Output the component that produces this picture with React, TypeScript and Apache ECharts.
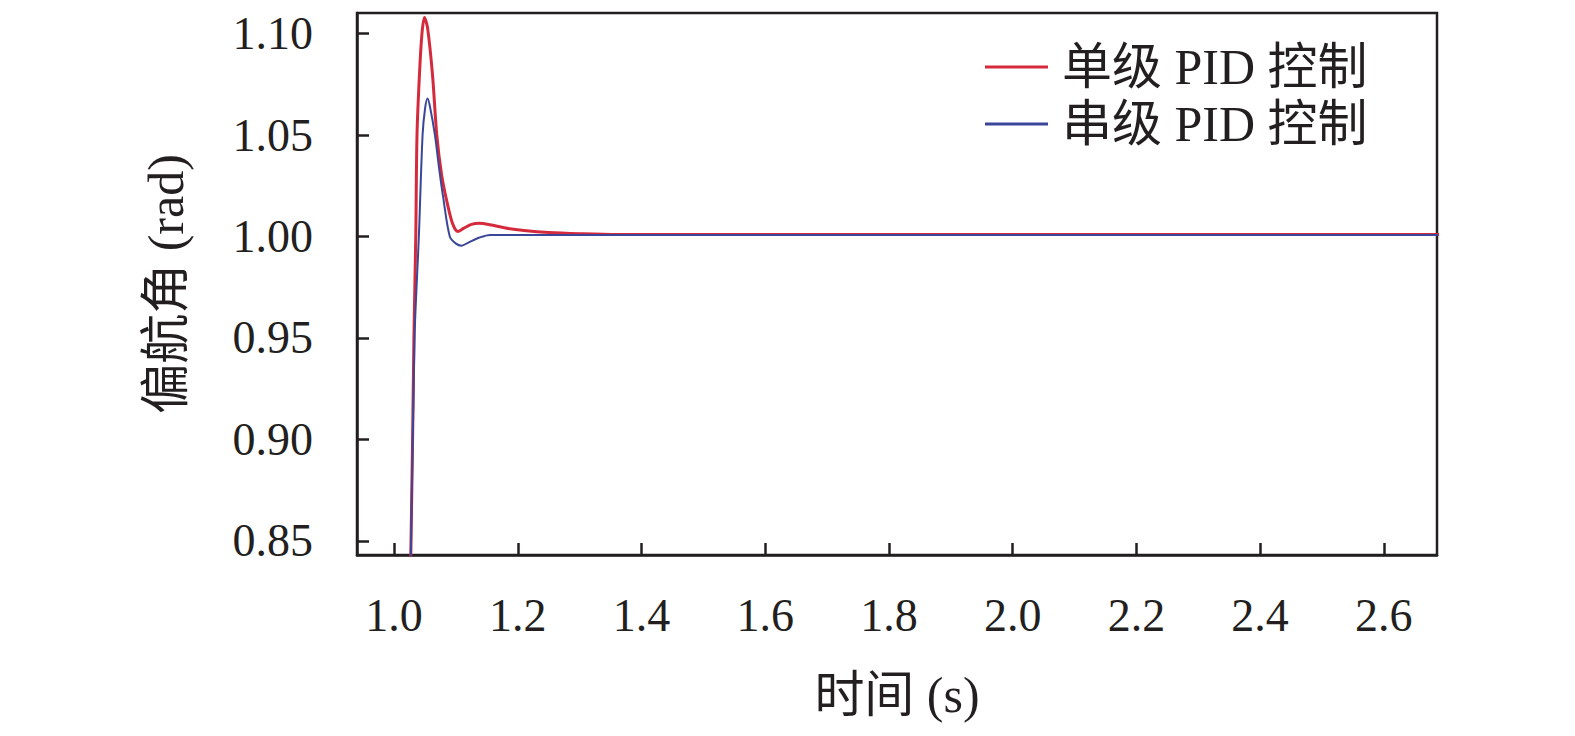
import React, { useEffect, useRef } from "react";
import * as echarts from "echarts";

// time (s), value (rad)
const redT = [1.015, 1.027, 1.032, 1.035, 1.037, 1.041, 1.045, 1.049, 1.054, 1.062, 1.069, 1.077, 1.087, 1.095, 1.103, 1.112, 1.125, 1.138, 1.155, 1.18, 1.21, 1.25, 1.3, 1.36, 2.69];
const redV = [0.7, 0.843, 0.95, 1.0, 1.05, 1.08, 1.1, 1.108, 1.103, 1.08, 1.05, 1.03, 1.015, 1.006, 1.0025, 1.004, 1.006, 1.0065, 1.0058, 1.0042, 1.003, 1.002, 1.0014, 1.001, 1.001];
const blueT = [1.015, 1.027, 1.033, 1.04, 1.046, 1.05, 1.054, 1.058, 1.066, 1.073, 1.079, 1.09, 1.1, 1.109, 1.12, 1.138, 1.155, 2.69];
const blueV = [0.7, 0.843, 0.95, 1.0, 1.05, 1.063, 1.068, 1.064, 1.05, 1.033, 1.02, 1.0, 0.9965, 0.9955, 0.997, 0.9995, 1.0008, 1.0008];

const xTicks = [1.0, 1.2, 1.4, 1.6, 1.8, 2.0, 2.2, 2.4, 2.6];
const yTicks = [0.85, 0.9, 0.95, 1.0, 1.05, 1.1];
const seriesNames = ["单级 PID 控制", "串级 PID 控制"];

const TEXT = "#231f20";
const RED = "#d42a3c";
const BLUE = "#3a4799";
const FONT = "'Liberation Serif', 'Times New Roman', 'Noto Sans CJK SC', serif";

export default function App() {
  const ref = useRef<HTMLDivElement>(null);
  useEffect(() => {
    if (!ref.current) return;
    const chart = echarts.init(ref.current, undefined, { renderer: "svg" });
    const red = redT.map((t, i) => [t, redV[i]]);
    const blue = blueT.map((t, i) => [t, blueV[i]]);
    chart.setOption({
      animation: false,
      backgroundColor: "#ffffff",
      grid: {
        left: 357,
        top: 13,
        right: 138,
        bottom: 181,
        show: true,
        borderColor: TEXT,
        borderWidth: 2.5,
        backgroundColor: "transparent",
      },
      legend: {
        orient: "vertical",
        left: 980,
        top: 37,
        itemWidth: 63,
        itemHeight: 3,
        itemGap: 7,
        icon: "rect",
        textStyle: { fontFamily: FONT, fontSize: 50, color: TEXT, padding: [0, 0, 0, 9] },
        data: [
          { name: seriesNames[0], icon: "rect", itemStyle: { color: RED } },
          { name: seriesNames[1], icon: "rect", itemStyle: { color: BLUE } },
        ],
      },
      xAxis: {
        type: "value",
        min: 0.94,
        max: 2.686,
        name: "时间 (s)",
        nameLocation: "middle",
        nameGap: 115,
        nameTextStyle: { fontFamily: FONT, fontSize: 50, color: TEXT },
        axisLine: { lineStyle: { color: TEXT, width: 2.5 } },
        axisTick: { inside: true, length: 12, lineStyle: { color: TEXT, width: 2.5 }, customValues: xTicks },
        axisLabel: {
          customValues: xTicks,
          formatter: (v: number) => v.toFixed(1),
          fontFamily: FONT,
          fontSize: 46,
          color: TEXT,
          margin: 37,
        },
        splitLine: { show: false },
      },
      yAxis: {
        type: "value",
        min: 0.843,
        max: 1.1102,
        name: "偏航角 (rad)",
        nameLocation: "middle",
        nameGap: 166,
        nameRotate: 90,
        nameTextStyle: { fontFamily: FONT, fontSize: 50, color: TEXT },
        axisLine: { lineStyle: { color: TEXT, width: 2.5 } },
        axisTick: { inside: true, length: 12, lineStyle: { color: TEXT, width: 2.5 }, customValues: yTicks },
        axisLabel: {
          customValues: yTicks,
          formatter: (v: number) => v.toFixed(2),
          fontFamily: FONT,
          fontSize: 46,
          color: TEXT,
          margin: 44,
        },
        splitLine: { show: false },
      },
      series: [
        {
          name: seriesNames[0],
          type: "line",
          data: red,
          symbol: "none",
          showSymbol: false,
          smooth: 0.3,
          clip: true,
          lineStyle: { color: RED, width: 3 },
          itemStyle: { color: RED },
        },
        {
          name: seriesNames[1],
          type: "line",
          data: blue,
          symbol: "none",
          showSymbol: false,
          smooth: 0.3,
          clip: true,
          lineStyle: { color: BLUE, width: 2 },
          itemStyle: { color: BLUE },
        },
      ],
    });
    return () => chart.dispose();
  }, []);
  return (
    <div
      ref={ref}
      style={{ position: "absolute", left: 0, top: 0, width: 1575, height: 736 }}
    />
  );
}
